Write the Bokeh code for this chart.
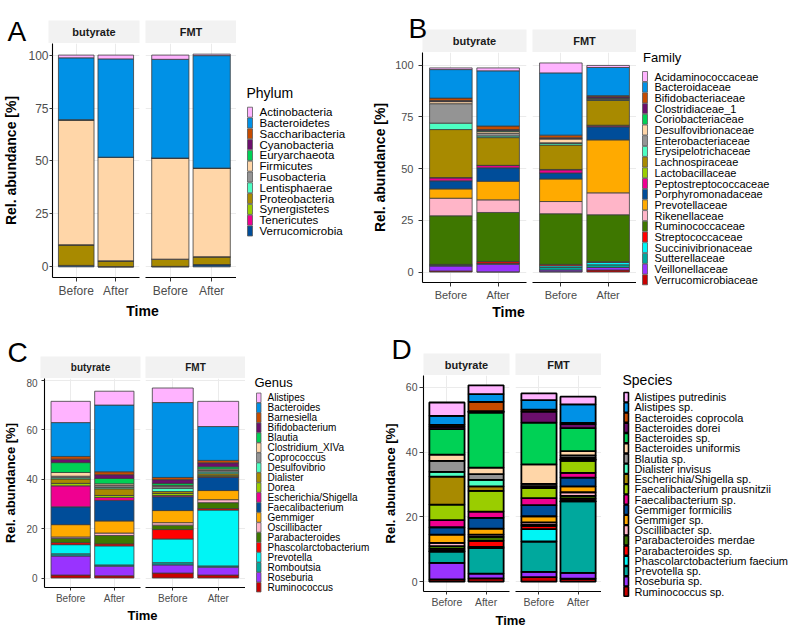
from bokeh.plotting import figure
from bokeh.models import ColumnDataSource, FactorRange, Range1d, FixedTicker
from bokeh.layouts import row, column
from bokeh.embed import file_html
from bokeh.resources import INLINE
from bokeh.core.properties import value

FONT = "Liberation Sans"
FACETS = ["butyrate", "FMT"]
TIMES = ["Before", "After"]

PALETTE = ["#FFB3FF", "#0091E6", "#C64B00", "#6C0F6C", "#00D155", "#FFD6A8", "#949494",
           "#4DFFC3", "#A88A00", "#9ACD00", "#EF0090", "#004D99", "#FFAA00", "#FFB5C8",
           "#3E7700", "#FF0000", "#00F5F5", "#00A89D", "#9933FF", "#C80000"]

# ---------------- Panel A : Phylum ----------------
PHYLUM = ["Actinobacteria", "Bacteroidetes", "Saccharibacteria", "Cyanobacteria", "Euryarchaeota",
          "Firmicutes", "Fusobacteria", "Lentisphaerae", "Proteobacteria", "Synergistetes",
          "Tenericutes", "Verrucomicrobia"]
PHYLUM_BUT_BEFORE = [1.3, 29.2, 0.05, 0.05, 0.05, 58.9, 0.05, 0.1, 9.6, 0.05, 0.05, 0.6]
PHYLUM_BUT_AFTER = [1.8, 46.4, 0.05, 0.05, 0.05, 48.8, 0.05, 0.05, 2.6, 0.05, 0.05, 0.05]
PHYLUM_FMT_BEFORE = [2.0, 46.6, 0.05, 0.05, 0.05, 47.6, 0.05, 0.05, 3.3, 0.1, 0.05, 0.1]
PHYLUM_FMT_AFTER = [0.7, 53.1, 0.05, 0.05, 0.05, 41.7, 0.05, 0.05, 3.6, 0.05, 0.05, 1.0]

# ---------------- Panel B : Family ----------------
FAMILY = ["Acidaminococcaceae", "Bacteroidaceae", "Bifidobacteriaceae", "Clostridiaceae_1",
          "Coriobacteriaceae", "Desulfovibrionaceae", "Enterobacteriaceae", "Erysipelotrichaceae",
          "Lachnospiraceae", "Lactobacillaceae", "Peptostreptococcaceae", "Porphyromonadaceae",
          "Prevotellaceae", "Rikenellaceae", "Ruminococcaceae", "Streptococcaceae",
          "Succinivibrionaceae", "Sutterellaceae", "Veillonellaceae", "Verrucomicrobiaceae"]
FAMILY_BUT_BEFORE = [0.8, 13.8, 1.2, 0.3, 0.2, 1.0, 9.4, 3.1, 23.2, 0.2, 1.4, 3.9, 4.5, 8.5,
                     23.5, 0.3, 0.2, 0.3, 2.4, 0.5]
FAMILY_BUT_AFTER = [1.4, 26.7, 1.7, 0.5, 0.5, 0.8, 1.3, 0.8, 13.4, 0.1, 1.1, 6.5, 9.0, 6.1,
                    23.7, 0.8, 0.2, 0.3, 3.7, 0.1]
FAMILY_FMT_BEFORE = [4.8, 30.1, 1.3, 0.3, 0.3, 1.8, 0.3, 0.8, 11.8, 0.2, 1.5, 2.9, 10.9, 5.9,
                     24.5, 0.7, 0.8, 1.2, 0.8, 0.2]
FAMILY_FMT_AFTER = [1.0, 13.6, 0.5, 0.6, 0.2, 0.5, 0.3, 0.2, 12.0, 0.3, 0.5, 6.3, 25.6, 10.6,
                    22.7, 0.3, 1.2, 1.3, 1.2, 1.0]

# ---------------- Panel C : Genus ----------------
GENUS = ["Alistipes", "Bacteroides", "Barnesiella", "Bifidobacterium", "Blautia",
         "Clostridium_XIVa", "Coprococcus", "Desulfovibrio", "Dialister", "Dorea",
         "Escherichia/Shigella", "Faecalibacterium", "Gemmiger", "Oscillibacter",
         "Parabacteroides", "Phascolarctobacterium", "Prevotella", "Romboutsia", "Roseburia",
         "Ruminococcus"]
GENUS_BUT_BEFORE = [8.6, 13.7, 1.1, 1.4, 4.0, 1.5, 0.6, 0.5, 1.8, 1.0, 8.5, 7.2, 5.0, 0.6,
                    1.7, 0.8, 3.7, 0.9, 7.7, 1.2]
GENUS_BUT_AFTER = [5.6, 27.0, 1.2, 1.5, 2.2, 0.7, 0.7, 0.6, 2.7, 0.8, 1.2, 8.3, 4.9, 1.0,
                   3.4, 0.8, 7.7, 0.5, 3.9, 0.9]
GENUS_FMT_BEFORE = [5.9, 30.3, 0.9, 1.5, 0.8, 0.5, 0.7, 1.3, 0.8, 0.8, 0.5, 5.6, 4.9, 1.0,
                    1.8, 3.8, 9.6, 0.9, 3.3, 2.0]
GENUS_FMT_AFTER = [10.2, 13.7, 1.0, 1.6, 0.9, 0.6, 0.6, 0.7, 0.8, 0.4, 0.3, 5.3, 3.7, 1.2,
                   2.4, 0.6, 22.6, 0.5, 3.2, 1.2]

# ---------------- Panel D : Species ----------------
SPECIES = ["Alistipes putredinis", "Alistipes sp.", "Bacteroides coprocola", "Bacteroides dorei",
           "Bacteroides sp.", "Bacteroides uniformis", "Blautia sp.", "Dialister invisus",
           "Escherichia/Shigella sp.", "Faecalibacterium prausnitzii", "Faecalibacterium sp.",
           "Gemmiger formicilis", "Gemmiger sp.", "Oscillibacter sp.", "Parabacteroides merdae",
           "Parabacteroides sp.", "Phascolarctobacterium faecium", "Prevotella sp.",
           "Roseburia sp.", "Ruminococcus sp."]
SPECIES_BUT_BEFORE = [4.1, 2.8, 0.6, 0.7, 7.9, 1.9, 3.4, 1.5, 8.6, 4.8, 2.2, 2.3, 2.5, 1.0,
                      0.9, 0.6, 0.2, 3.5, 5.1, 0.7]
SPECIES_BUT_AFTER = [2.7, 2.4, 2.9, 0.4, 17.0, 2.0, 1.8, 2.0, 1.4, 6.4, 1.9, 3.3, 1.9, 0.7,
                     1.2, 1.9, 0.3, 7.9, 1.5, 1.0]
SPECIES_FMT_BEFORE = [2.1, 2.9, 0.6, 3.4, 12.9, 6.0, 0.7, 0.3, 0.3, 3.1, 2.2, 3.4, 1.9, 0.8,
                      0.3, 1.0, 3.8, 9.4, 1.6, 1.4]
SPECIES_FMT_AFTER = [2.4, 5.7, 0.4, 1.2, 7.1, 1.3, 0.8, 0.4, 0.5, 3.7, 1.5, 2.7, 1.8, 1.1,
                     0.9, 0.7, 0.1, 22.1, 1.8, 0.9]

Y_TICKS_A = [0, 25, 50, 75, 100]
Y_TICKS_B = [0, 25, 50, 75, 100]
Y_TICKS_C = [0, 20, 40, 60, 80]
Y_TICKS_D = [0, 20, 40, 60]


def pixel_fig(w, h):
    """A figure whose data units are pixels (y grows downwards), used for
    strips, panel letters, axis titles and the colour keys."""
    p = figure(width=w, height=h, x_range=Range1d(0, w), y_range=Range1d(h, 0),
               x_axis_type=None, y_axis_type=None, toolbar_location=None,
               output_backend="svg", min_border=0)
    p.grid.visible = False
    p.outline_line_color = None
    p.background_fill_color = "white"
    p.border_fill_color = "white"
    return p


def make_panel(letter, names, samples, legend_title, yticks, g):
    n = len(names)
    keys = ["c%d" % i for i in range(n)]
    colors = PALETTE[:n]
    totals = [sum(v) for pair in samples for v in pair]
    ymax = max(totals)
    yr = Range1d(-0.05 * ymax, 1.05 * ymax)
    plot_w = g["WL"] + g["gapR"] + g["FW"]

    # header: panel letter + facet strips
    hdr = pixel_fig(plot_w, g["Hh"])
    sl = [g["L"], g["WL"] + g["gapR"]]
    sr = [g["L"] + g["FW"], g["WL"] + g["gapR"] + g["FW"]]
    hdr.quad(left=sl, right=sr, top=[g["strip_top"]] * 2, bottom=[g["Hh"]] * 2,
             fill_color="#F2F2F2", line_color=None)
    hdr.text(x=[(a + b) / 2 for a, b in zip(sl, sr)], y=[(g["strip_top"] + g["Hh"]) / 2] * 2,
             text=FACETS, text_font=value(FONT), text_font_size=value(g["strip_fs"]),
             text_font_style="bold", text_color="#1A1A1A", text_align="center",
             text_baseline="middle")
    hdr.text(x=[g["letter_x"]], y=[g["letter_y"]], text=[letter], text_font=value(FONT),
             text_font_size=value("28px"), text_color="black", text_align="left",
             text_baseline="alphabetic")

    figs = []
    for j, facet in enumerate(FACETS):
        before, after = samples[j]
        data = {"x": TIMES}
        for i, k in enumerate(keys):
            data[k] = [before[i], after[i]]
        src = ColumnDataSource(data)
        left = j == 0
        width = g["WL"] if left else g["gapR"] + g["FW"]
        mbl = g["L"] if left else g["gapR"]
        mbr = width - mbl - g["FW"]
        p = figure(width=width, height=g["Hf"],
                   x_range=FactorRange(factors=TIMES, range_padding=0.1,
                                       range_padding_units="absolute"),
                   y_range=yr, toolbar_location=None, output_backend="svg",
                   min_border_left=mbl, min_border_right=mbr, min_border_top=0,
                   min_border_bottom=g["Hf"] - g["FH"])
        p.outline_line_color = None
        p.vbar_stack(keys[::-1], x="x", width=0.9, source=src,
                     fill_color=colors[::-1], line_color=g["lc"], line_width=g["lw"])
        p.xgrid.grid_line_color = "#EBEBEB"
        p.ygrid.grid_line_color = "#EBEBEB"
        p.ygrid.ticker = FixedTicker(ticks=yticks)
        p.yaxis.ticker = FixedTicker(ticks=yticks)
        for ax in [p.xaxis[0], p.yaxis[0]]:
            ax.axis_line_color = "black"
            ax.axis_line_width = 1.1
            ax.major_tick_line_color = "#333333"
            ax.major_tick_in = 0
            ax.minor_tick_line_color = None
            ax.major_label_text_font = FONT
            ax.major_label_text_color = "#4D4D4D"
            ax.axis_label_text_font = FONT
            ax.axis_label_text_font_style = "bold"
            ax.axis_label_text_color = "black"
        p.xaxis.major_tick_out = g["xtick"]
        p.xaxis.major_label_standoff = g["xstand"]
        p.xaxis.major_label_text_font_size = g["tick_fs"]
        p.yaxis.major_tick_out = g["ytick"]
        p.yaxis.major_label_standoff = g["ystand"]
        p.yaxis.major_label_text_font_size = g["tick_fs"]
        if left:
            p.yaxis.axis_label = "Rel. abundance [%]"
            p.yaxis.axis_label_text_font_size = g["title_fs"]
            p.yaxis.axis_label_standoff = g["ylab_stand"]
        else:
            p.yaxis.visible = False
        figs.append(p)

    ftr = pixel_fig(plot_w, g["Hb"])
    ftr.text(x=[g["time_x"]], y=[g["time_y"]], text=["Time"], text_font=value(FONT),
             text_font_size=value(g["title_fs"]), text_font_style="bold", text_color="black",
             text_align="center", text_baseline="middle")

    # colour key, one row per category in the same order as the factor levels
    lw_ = g["W"] - plot_w
    total_h = g["Hh"] + g["Hf"] + g["Hb"]
    lf = pixel_fig(lw_, total_h)
    ys = [g["ly0"] + i * g["lpitch"] for i in range(n)]
    lf.text(x=[g["ltx"]], y=[g["lty"]], text=[legend_title], text_font=value(FONT),
            text_font_size=value(g["ltitle_fs"]), text_color="black", text_align="left",
            text_baseline="middle")
    lf.quad(left=[g["lgx"]] * n, right=[g["lgx"] + g["lgw"]] * n,
            top=[y - g["lgh"] / 2 for y in ys], bottom=[y + g["lgh"] / 2 for y in ys],
            fill_color=colors, line_color=g["lglc"], line_width=g["lglw"])
    lf.text(x=[g["llx"]] * n, y=ys, text=names, text_font=value(FONT),
            text_font_size=value(g["legend_fs"]), text_color="black", text_align="left",
            text_baseline="middle")

    return row(column(hdr, row(figs[0], figs[1]), ftr), lf)


GA = dict(W=362, Hh=43, Hf=257, FH=236, Hb=18, WL=141, L=48, FW=91, gapR=4, strip_top=20,
          letter_x=7, letter_y=31, time_x=142, time_y=10, strip_fs="11px", tick_fs="12px",
          title_fs="14px", xtick=4, xstand=2, ytick=3, ystand=1, ylab_stand=6,
          lc="#3C3C3C", lw=0.8,
          legend_fs="11.5px", ltitle_fs="14px", ltx=10, lty=92, ly0=111.7, lpitch=10.8,
          lgx=11, lgw=5, lgh=10, lglc="#5A5A5A", lglw=0.8, llx=23)
GB = dict(W=428, Hh=52, Hf=251, FH=231, Hb=15, WL=167, L=60, FW=104, gapR=3, strip_top=29,
          letter_x=46, letter_y=28, time_x=146, time_y=8, strip_fs="11px", tick_fs="11px",
          title_fs="14px", xtick=4, xstand=2, ytick=4, ystand=5, ylab_stand=4,
          lc="#3C3C3C", lw=0.8,
          legend_fs="11px", ltitle_fs="13px", ltx=6.5, lty=57, ly0=76, lpitch=10.7,
          lgx=6, lgw=5, lgh=10, lglc="#5A5A5A", lglw=0.8, llx=18)
GC = dict(W=378, Hh=60, Hf=228, FH=211, Hb=22, WL=144, L=40, FW=100, gapR=1, strip_top=38,
          letter_x=7, letter_y=34, time_x=142, time_y=9, strip_fs="10px", tick_fs="10px",
          title_fs="13px", xtick=3, xstand=2, ytick=3, ystand=4, ylab_stand=5,
          lc="#3C3C3C", lw=0.8,
          legend_fs="10px", ltitle_fs="13px", ltx=9, lty=64, ly0=79.3, lpitch=9.97,
          lgx=11, lgw=4.5, lgh=9.5, lglc="#5A5A5A", lglw=0.8, llx=22)
GD = dict(W=412, Hh=57, Hf=235, FH=219, Hb=18, WL=134, L=45, FW=86, gapR=3, strip_top=35,
          letter_x=13, letter_y=31, time_x=132, time_y=10, strip_fs="11px", tick_fs="10.5px",
          title_fs="13px", xtick=3, xstand=1, ytick=4, ystand=2, ylab_stand=5,
          lc="black", lw=1.8,
          legend_fs="11px", ltitle_fs="14px", ltx=21, lty=61, ly0=78.7, lpitch=10.23,
          lgx=22.5, lgw=4.5, lgh=9.5, lglc="black", lglw=1.6, llx=33)

pA = make_panel("A", PHYLUM, [(PHYLUM_BUT_BEFORE, PHYLUM_BUT_AFTER),
                              (PHYLUM_FMT_BEFORE, PHYLUM_FMT_AFTER)], "Phylum", Y_TICKS_A, GA)
pB = make_panel("B", FAMILY, [(FAMILY_BUT_BEFORE, FAMILY_BUT_AFTER),
                              (FAMILY_FMT_BEFORE, FAMILY_FMT_AFTER)], "Family", Y_TICKS_B, GB)
pC = make_panel("C", GENUS, [(GENUS_BUT_BEFORE, GENUS_BUT_AFTER),
                             (GENUS_FMT_BEFORE, GENUS_FMT_AFTER)], "Genus", Y_TICKS_C, GC)
pD = make_panel("D", SPECIES, [(SPECIES_BUT_BEFORE, SPECIES_BUT_AFTER),
                               (SPECIES_FMT_BEFORE, SPECIES_FMT_AFTER)], "Species", Y_TICKS_D, GD)

layout = column(row(pA, pB), row(pC, pD))
open("out.html", "w").write(file_html(layout, INLINE))
